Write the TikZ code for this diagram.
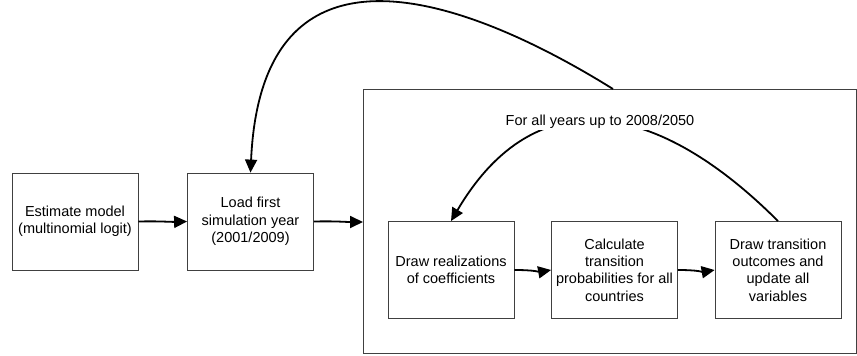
\documentclass[tikz,border=0pt]{standalone}
\usepackage{fontspec}
\setmainfont{Liberation Sans}
\usetikzlibrary{arrows.meta}
\begin{document}
\begin{tikzpicture}[x=1pt,y=-1pt,
  box/.style={draw=black!75,line width=0.8pt,minimum width=126pt,minimum height=97pt,
    align=center,inner sep=2pt,font=\fontsize{14.5}{17.3}\selectfont},
  conn/.style={line width=1.8pt,-{Triangle[length=13pt,width=12pt]}}]
\useasboundingbox (0,0) rectangle (857,356);
\draw[draw=black!75,line width=0.8pt] (363,89) rectangle (856.6,353);
\coordinate (looptop) at (613,89);
\coordinate (loopwest) at (363,222);
\node[box] (est) at (75,221.5) {Estimate model\\(multinomial logit)};
\node[box] (load) at (250.5,221.5) {Load first\\simulation year\\(2001/2009)};
\node[box] (b1) at (451,270) {Draw realizations\\of coefficients};
\node[box] (b2) at (614.5,270) {Calculate\\transition\\probabilities for all\\countries};
\node[box] (b3) at (778,270) {Draw transition\\outcomes and\\update all\\variables};
\draw[conn] (est.east) .. controls (160,221) and (170,222) .. (load.west);
\draw[conn] (load.east) .. controls (336,221) and (345,222) .. (loopwest);
\draw[conn] (b1.east) .. controls (535,270) and (540,272) .. (b2.west);
\draw[conn] (b2.east) .. controls (698,270) and (703,272) .. (b3.west);
\draw[conn] (looptop) .. controls (470,0) and (262,-80) .. (load.north);
\draw[conn] (b3.north) .. controls (658,101) and (536,77) .. (b1.north);
\node[fill=white,inner sep=1pt,font=\fontsize{14.5}{16}\selectfont] (lbl) at (600,122) {For all years up to 2008/2050};
\end{tikzpicture}
\end{document}
